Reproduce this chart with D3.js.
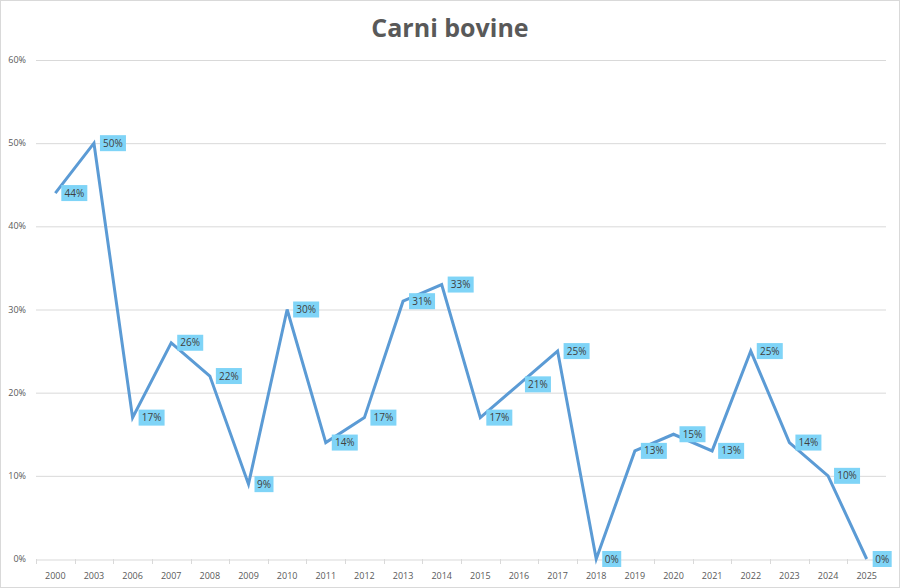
<!DOCTYPE html>
<html>
<head>
<meta charset="utf-8">
<script src="https://cdn.jsdelivr.net/npm/d3@7"></script>
<style>
  body { margin: 0; background: #fff; }
  svg { display: block; font-family: "Open Sans", "DejaVu Sans", sans-serif; }
</style>
</head>
<body>
<svg id="chart"></svg>
<script>
const years = ['2000', '2003', '2006', '2007', '2008', '2009', '2010', '2011', '2012', '2013', '2014',
    '2015', '2016', '2017', '2018', '2019', '2020', '2021', '2022', '2023', '2024', '2025'];
const shares = [44, 50, 17, 26, 22, 9, 30, 14, 17, 31, 33, 17, 21, 25, 0, 13, 15, 13, 25, 14, 10, 0];
const yTicks = [0, 10, 20, 30, 40, 50, 60];
const title = 'Carni bovine';

const width = 900;
const height = 588;
const margin = { top: 60, right: 14, bottom: 29, left: 36 };

const svg = d3.select('#chart')
    .attr('width', width)
    .attr('height', height);

// outer frame
svg.append('rect')
    .attr('x', 0.5).attr('y', 0.5)
    .attr('width', width - 1).attr('height', height - 1)
    .attr('fill', '#fff')
    .attr('stroke', '#d9d9d9');

svg.append('text')
    .attr('x', width / 2)
    .attr('y', 37)
    .attr('text-anchor', 'middle')
    .attr('font-size', 25)
    .attr('font-weight', 'bold')
    .attr('fill', '#595959')
    .text(title);

const x = d3.scaleBand()
    .domain(years)
    .range([margin.left, width - margin.right]);

const y = d3.scaleLinear()
    .domain([0, 60])
    .range([height - margin.bottom, margin.top]);

// gridlines
svg.append('g')
    .selectAll('line')
    .data(yTicks.filter((t) => t > 0))
    .join('line')
    .attr('x1', margin.left)
    .attr('x2', width - margin.right)
    .attr('y1', (d) => y(d) + 0.5)
    .attr('y2', (d) => y(d) + 0.5)
    .attr('stroke', '#d9d9d9');

// y labels
svg.append('g')
    .selectAll('text')
    .data(yTicks)
    .join('text')
    .attr('x', 26)
    .attr('y', (d) => y(d) + 3)
    .attr('text-anchor', 'end')
    .attr('font-size', 9)
    .attr('fill', '#595959')
    .text((d) => `${d}%`);

// x axis
const xAxis = d3.axisBottom(x).tickSize(5).tickSizeOuter(0);
const gx = svg.append('g')
    .attr('transform', `translate(0,${y(0) + 0.5})`)
    .call(xAxis);
gx.select('.domain').attr('stroke', '#d9d9d9');
gx.selectAll('.tick line').remove();
gx.selectAll('.tick text')
    .attr('fill', '#595959')
    .attr('font-size', 9)
    .attr('dy', '1.3em')
    .attr('font-family', '"Open Sans", "DejaVu Sans", sans-serif');
// ticks at band boundaries
svg.append('g')
    .selectAll('line')
    .data(years)
    .join('line')
    .attr('x1', (d) => Math.round(x(d)) + 0.5)
    .attr('x2', (d) => Math.round(x(d)) + 0.5)
    .attr('y1', y(0))
    .attr('y2', y(0) + 5)
    .attr('stroke', '#d9d9d9');

const cx = (d, i) => x(years[i]) + x.bandwidth() / 2;

const line = d3.line()
    .x((d, i) => cx(d, i))
    .y((d) => y(d));

svg.append('path')
    .datum(shares)
    .attr('fill', 'none')
    .attr('stroke', '#5b9bd5')
    .attr('stroke-width', 3)
    .attr('stroke-linejoin', 'miter')
    .attr('d', line);

// data labels
const labels = svg.append('g')
    .selectAll('g')
    .data(shares)
    .join('g')
    .attr('transform', (d, i) => `translate(${cx(d, i) + 6},${y(d)})`);

labels.append('rect')
    .attr('x', 0)
    .attr('y', -8)
    .attr('width', (d) => (d < 10 ? 19 : 26))
    .attr('height', 16)
    .attr('fill', '#7fd4f7');

labels.append('text')
    .attr('x', (d) => (d < 10 ? 9.5 : 13))
    .attr('y', 3.5)
    .attr('text-anchor', 'middle')
    .attr('font-size', 10)
    .attr('fill', '#404040')
    .text((d) => `${d}%`);
</script>
</body>
</html>
